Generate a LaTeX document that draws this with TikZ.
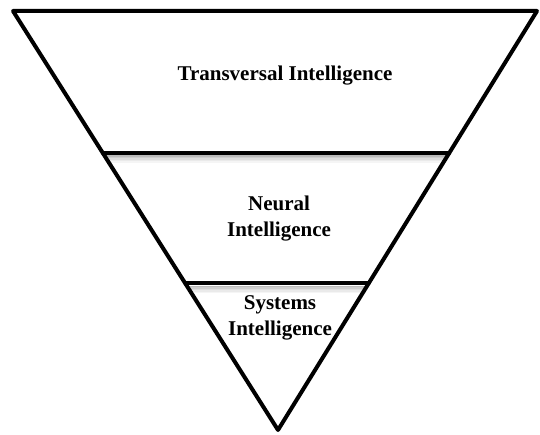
\documentclass[tikz,border=0pt]{standalone}
\usepackage{fontspec}
\setmainfont{Liberation Serif}
\usetikzlibrary{calc}
\tikzset{
  layertext/.style={align=center, font=\fontsize{21}{26}\selectfont\bfseries},
  shade line/.style={gray, line cap=butt}
}
\begin{document}
\begin{tikzpicture}[x=1pt, y=-1pt, line width=4pt, line join=round, line cap=round]
	\useasboundingbox (0,0) rectangle (540,435);
	\coordinate (tl) at (13,11);
	\coordinate (tr) at (537,11);
	\coordinate (apex) at (278,430);
	\coordinate (l1) at ($(tl)!0.339!(apex)$);
	\coordinate (r1) at ($(tr)!0.339!(apex)$);
	\coordinate (l2) at ($(tl)!0.650!(apex)$);
	\coordinate (r2) at ($(tr)!0.650!(apex)$);
	% soft shadow under the dividing lines
	\foreach \d/\o in {3/0.55,4.5/0.4,6/0.28,7.5/0.17,9/0.08} {
		\draw[shade line, line width=1.6pt, opacity=\o] ($(l1)+(4,\d)$) -- ($(r1)+(-3,\d)$);
		\draw[shade line, line width=1.6pt, opacity=\o] ($(l2)+(4,\d)$) -- ($(r2)+(-3,\d)$);
	}
	\draw (tl) -- (tr) -- (apex) -- cycle;
	\draw (l1) -- (r1);
	\draw (l2) -- (r2);
	\node[layertext] (transversal) at (285,76) {Transversal Intelligence};
	\node[layertext] (neural) at (279,219) {Neural\\Intelligence};
	\node[layertext] (systems) at (280,318) {Systems\\Intelligence};
\end{tikzpicture}
\end{document}
